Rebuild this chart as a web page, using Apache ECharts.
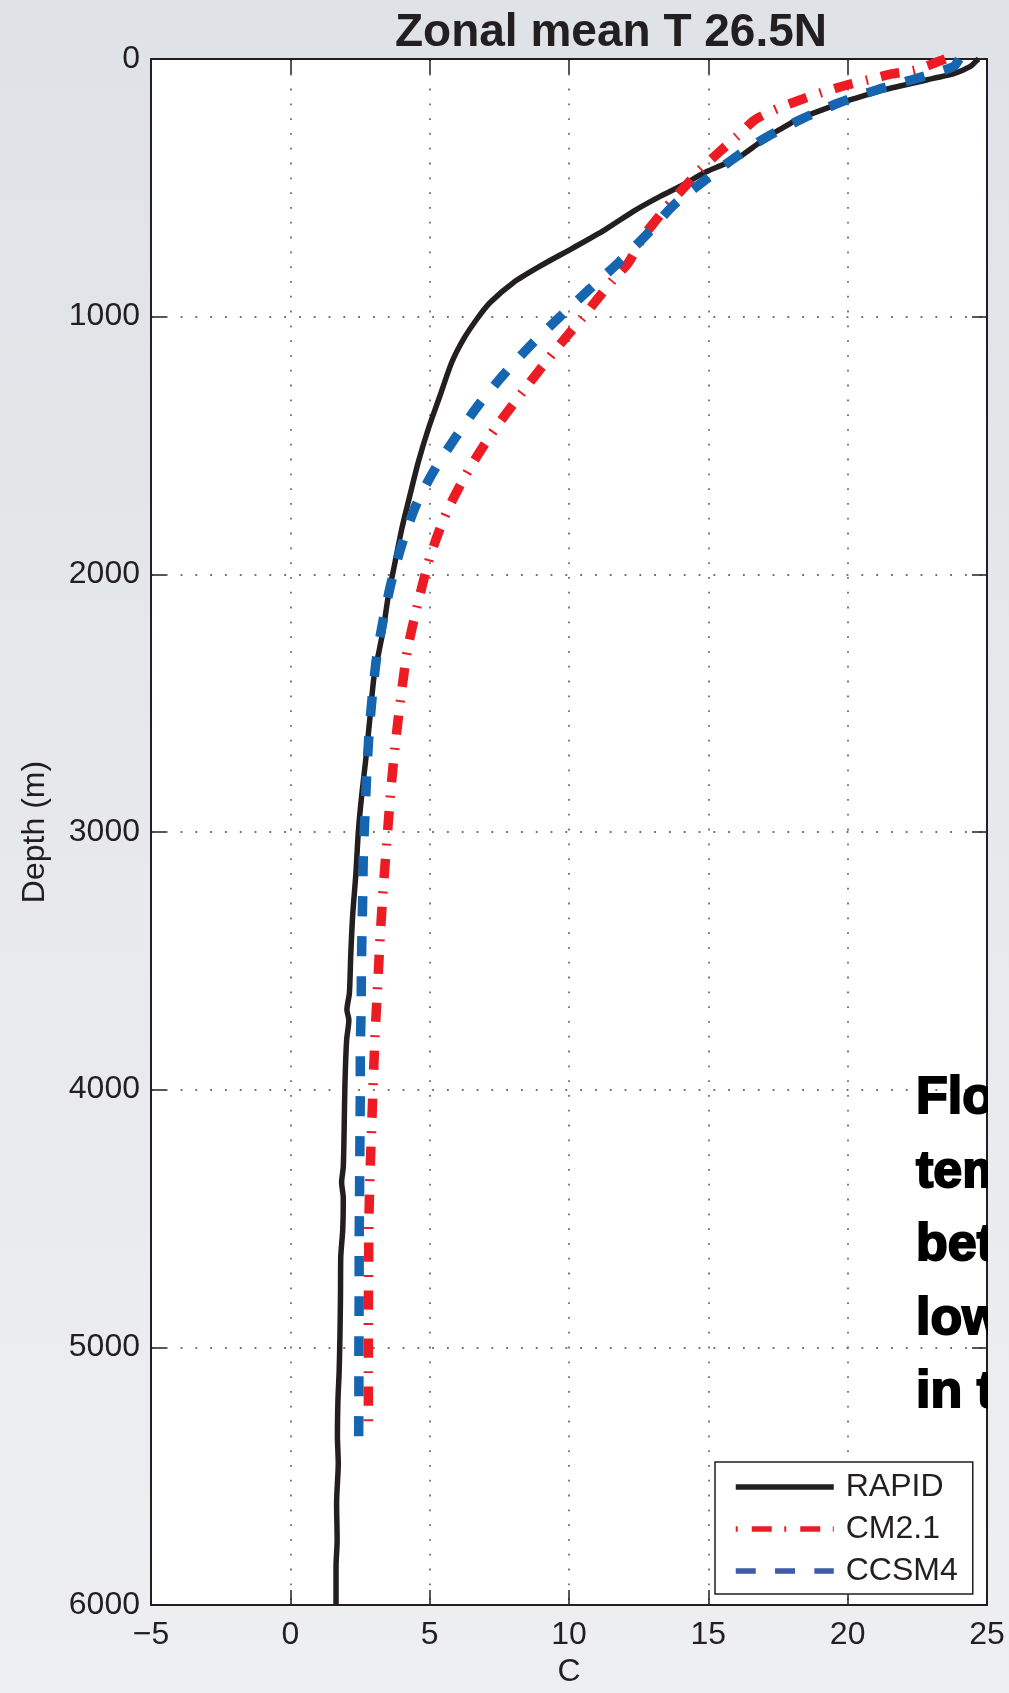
<!DOCTYPE html>
<html>
<head>
<meta charset="utf-8">
<title>Zonal mean T 26.5N</title>
<script src="https://cdn.jsdelivr.net/npm/echarts@6/dist/echarts.min.js"></script>
<style>
  html, body { margin: 0; padding: 0; }
  #chart { width: 1009px; height: 1693px; }
</style>
</head>
<body>
<div id="chart"></div>
<script>
// ---- text ----
const titleText = 'Zonal mean T 26.5N';
const xAxisName = 'C';
const yAxisName = 'Depth (m)';
const noteLines = ['Flo', 'tem', 'bet', 'low', 'in t'];

// ---- axis ranges / ticks ----
const tempMin = -5, tempMax = 25, tempStep = 5;
const depthMin = 0, depthMax = 6000, depthStep = 1000;

// ---- series names ----
const seriesNames = ['RAPID', 'CM2.1', 'CCSM4'];

// ---- RAPID observed profile ----
const rapidDepth = [0, 6, 30, 58, 75, 88, 105, 120, 139, 159,
  182, 210, 236, 259, 288, 314, 346, 378, 404, 420,
  443, 488, 533, 591, 662, 733, 804, 868, 946, 1010,
  1088, 1178, 1307, 1436, 1565, 1694, 1823, 1952, 2081, 2210,
  2300, 2400, 2553, 2706, 2859, 3000, 3165, 3319, 3472, 3625,
  3690, 3730, 3808, 3977, 4161, 4300, 4360, 4420, 4544, 4648,
  4800, 4959, 5100, 5200, 5346, 5450, 5604, 5750, 5850, 6000];
const rapidTemp = [24.7, 24.63, 24.39, 23.79, 23.07, 22.59, 21.88, 21.28, 20.68, 20.08,
  19.48, 18.77, 18.17, 17.81, 17.33, 16.97, 16.56, 16.14, 15.66, 15.3,
  14.82, 14.10, 13.27, 12.31, 11.3, 10.15, 8.96, 8.0, 7.16, 6.69,
  6.21, 5.79, 5.37, 4.95, 4.59, 4.29, 4.0, 3.76, 3.52, 3.34,
  3.18, 3.0, 2.86, 2.72, 2.56, 2.44, 2.35, 2.24, 2.17, 2.12,
  2.03, 2.10, 2.02, 1.96, 1.93, 1.90, 1.84, 1.90, 1.88, 1.81,
  1.80, 1.78, 1.75, 1.71, 1.69, 1.72, 1.66, 1.68, 1.64, 1.64];

// ---- CM2.1 model profile ----
const cm21Depth = [0, 10, 43, 58, 81, 101, 130, 159, 191, 236,
  301, 359, 430, 488, 552, 630, 688, 791, 856, 1000,
  1139, 1288, 1436, 1591, 1759, 1933, 2107, 2289, 2473, 2657,
  2844, 3028, 3211, 3395, 3582, 3767, 3954, 4138, 4325, 4510,
  4700, 4900, 5100, 5290];
const cm21Temp = [23.5, 23.25, 22.42, 21.58, 20.74, 19.97, 19.07, 18.29, 17.51, 16.67,
  16.02, 15.41, 14.70, 14.22, 13.68, 13.09, 12.67, 12.13, 11.59, 10.51,
  9.44, 8.36, 7.34, 6.42, 5.61, 5.01, 4.59, 4.21, 3.97, 3.77,
  3.60, 3.47, 3.34, 3.23, 3.14, 3.05, 2.98, 2.92, 2.86, 2.82,
  2.81, 2.80, 2.80, 2.80];

// ---- CCSM4 model profile ----
const ccsm4Depth = [0, 30, 75, 120, 169, 230, 303, 378, 475, 569,
  681, 791, 894, 1000, 1107, 1219, 1339, 1462, 1591, 1726,
  1875, 2023, 2172, 2319, 2472, 2625, 2778, 2931, 3084, 3237,
  3391, 3544, 3697, 3850, 4003, 4156, 4309, 4462, 4616, 4800,
  5000, 5200, 5370];
const ccsm4Temp = [24.0, 23.79, 22.48, 21.04, 19.72, 18.41, 17.09, 16.02, 14.82, 13.74,
  12.79, 11.77, 10.73, 9.68, 8.66, 7.70, 6.78, 5.97, 5.19, 4.53,
  4.03, 3.64, 3.34, 3.10, 2.94, 2.82, 2.74, 2.68, 2.62, 2.60,
  2.57, 2.55, 2.54, 2.51, 2.51, 2.50, 2.49, 2.48, 2.47, 2.47,
  2.46, 2.46, 2.45];

const pairUp = (temps, depths) => temps.map((t, i) => [t, depths[i]]);

const INK = '#231f20';
const RED = '#ed1c24';
const BLUE = '#1565b0';
const FONT = '"Liberation Sans", Arial, Helvetica, sans-serif';

const bgGradient = () => new echarts.graphic.LinearGradient(0, 0, 0, 1693, [
  { offset: 0, color: '#dfe2e6' },
  { offset: 1, color: '#eeeff1' }
], true);

const chart = echarts.init(document.getElementById('chart'), null, { renderer: 'canvas' });

const plainNumber = v => String(v).replace('-', '\u2212');

const tickStyle = { show: true, inside: true, length: 15, lineStyle: { color: INK, width: 1.5 } };
const axisLineStyle = { show: true, onZero: false, lineStyle: { color: INK, width: 2 } };
const dotGrid = { show: true, lineStyle: { color: '#6e6e6e', width: 1.8, type: [1.8, 13] } };
const hiddenSymbol = { color: 'rgba(0,0,0,0)', borderColor: 'rgba(0,0,0,0)', borderWidth: 0 };

chart.setOption({
  backgroundColor: bgGradient(),
  animation: false,
  textStyle: { fontFamily: FONT },
  grid: {
    left: 151, top: 59, width: 836, height: 1550,
    show: true, backgroundColor: '#ffffff', borderWidth: 0,
    containLabel: false
  },
  legend: {
    orient: 'vertical',
    left: 715, top: 1462,
    padding: [9, 15, 7, 18],
    itemGap: 10,
    itemWidth: 98,
    itemHeight: 14,
    backgroundColor: '#ffffff',
    borderColor: INK,
    borderWidth: 1.5,
    borderRadius: 0,
    selectedMode: false,
    textStyle: { fontSize: 32, lineHeight: 32, color: INK, fontFamily: FONT, padding: [0, 0, 0, 7] },
    data: [
      { name: seriesNames[0], itemStyle: hiddenSymbol, lineStyle: { color: INK, width: 5.5, type: 'solid' } },
      { name: seriesNames[1], itemStyle: hiddenSymbol, lineStyle: { color: RED, width: 5.5, type: [2, 14, 20, 12.5] } },
      { name: seriesNames[2], itemStyle: hiddenSymbol, lineStyle: { color: '#3f5aa8', width: 5.5, type: [20, 19.3] } }
    ]
  },
  xAxis: [
    {
      type: 'value', position: 'bottom',
      min: tempMin, max: tempMax, interval: tempStep,
      name: xAxisName, nameLocation: 'middle', nameGap: 51,
      nameTextStyle: { fontSize: 32, color: INK, fontFamily: FONT },
      axisLine: axisLineStyle, axisTick: tickStyle,
      axisLabel: { fontSize: 32, color: INK, margin: 14, fontFamily: FONT, formatter: plainNumber },
      splitLine: dotGrid
    },
    {
      type: 'value', position: 'top',
      min: tempMin, max: tempMax, interval: tempStep,
      axisLine: axisLineStyle, axisTick: tickStyle,
      axisLabel: { show: false }, splitLine: { show: false }
    }
  ],
  yAxis: [
    {
      type: 'value', position: 'left', inverse: true,
      min: depthMin, max: depthMax, interval: depthStep,
      name: yAxisName, nameLocation: 'middle', nameGap: 100, nameRotate: 90,
      nameTextStyle: { fontSize: 32, color: INK, fontFamily: FONT },
      axisLine: axisLineStyle, axisTick: tickStyle,
      axisLabel: { fontSize: 32, color: INK, margin: 11, fontFamily: FONT, formatter: plainNumber },
      splitLine: dotGrid
    },
    {
      type: 'value', position: 'right', inverse: true,
      min: depthMin, max: depthMax, interval: depthStep,
      axisLine: axisLineStyle, axisTick: tickStyle,
      axisLabel: { show: false }, splitLine: { show: false }
    }
  ],
  series: [
    {
      name: seriesNames[0], type: 'line', xAxisIndex: 0, yAxisIndex: 0,
      data: pairUp(rapidTemp, rapidDepth),
      symbol: 'none', smooth: 0.25, z: 3,
      lineStyle: { color: INK, width: 5.5, type: 'solid', join: 'round' },
      itemStyle: { color: INK }
    },
    {
      name: seriesNames[1], type: 'line', xAxisIndex: 0, yAxisIndex: 0,
      data: pairUp(cm21Temp, cm21Depth),
      symbol: 'none', smooth: 0.25, z: 4,
      lineStyle: { color: RED, width: 9.5, type: [19, 13.5, 2, 13.5], cap: 'butt' },
      itemStyle: { color: RED }
    },
    {
      name: seriesNames[2], type: 'line', xAxisIndex: 0, yAxisIndex: 0,
      data: pairUp(ccsm4Temp, ccsm4Depth),
      symbol: 'none', smooth: 0.25, z: 5,
      lineStyle: { color: BLUE, width: 9.5, type: [20, 20], cap: 'butt' },
      itemStyle: { color: BLUE }
    }
  ],
  graphic: [
    {
      type: 'text', x: 611, y: 33, z: 10,
      style: {
        text: titleText, fill: INK, align: 'center', verticalAlign: 'middle',
        font: 'bold 46px ' + FONT
      }
    },
    ...noteLines.map((line, i) => ({
      type: 'text', x: 916, y: 1117 - 18 + i * 73.5, z: 20,
      style: {
        text: line, fill: '#000', align: 'left', verticalAlign: 'middle',
        font: 'bold 52px ' + FONT,
        stroke: '#000', lineWidth: 2
      }
    })),
    {
      // slide margin to the right of the plot frame hides the overflowing words
      type: 'rect', z: 30,
      shape: { x: 988, y: 1060, width: 30, height: 380 },
      style: { fill: bgGradient() }
    }
  ]
});
</script>
</body>
</html>
